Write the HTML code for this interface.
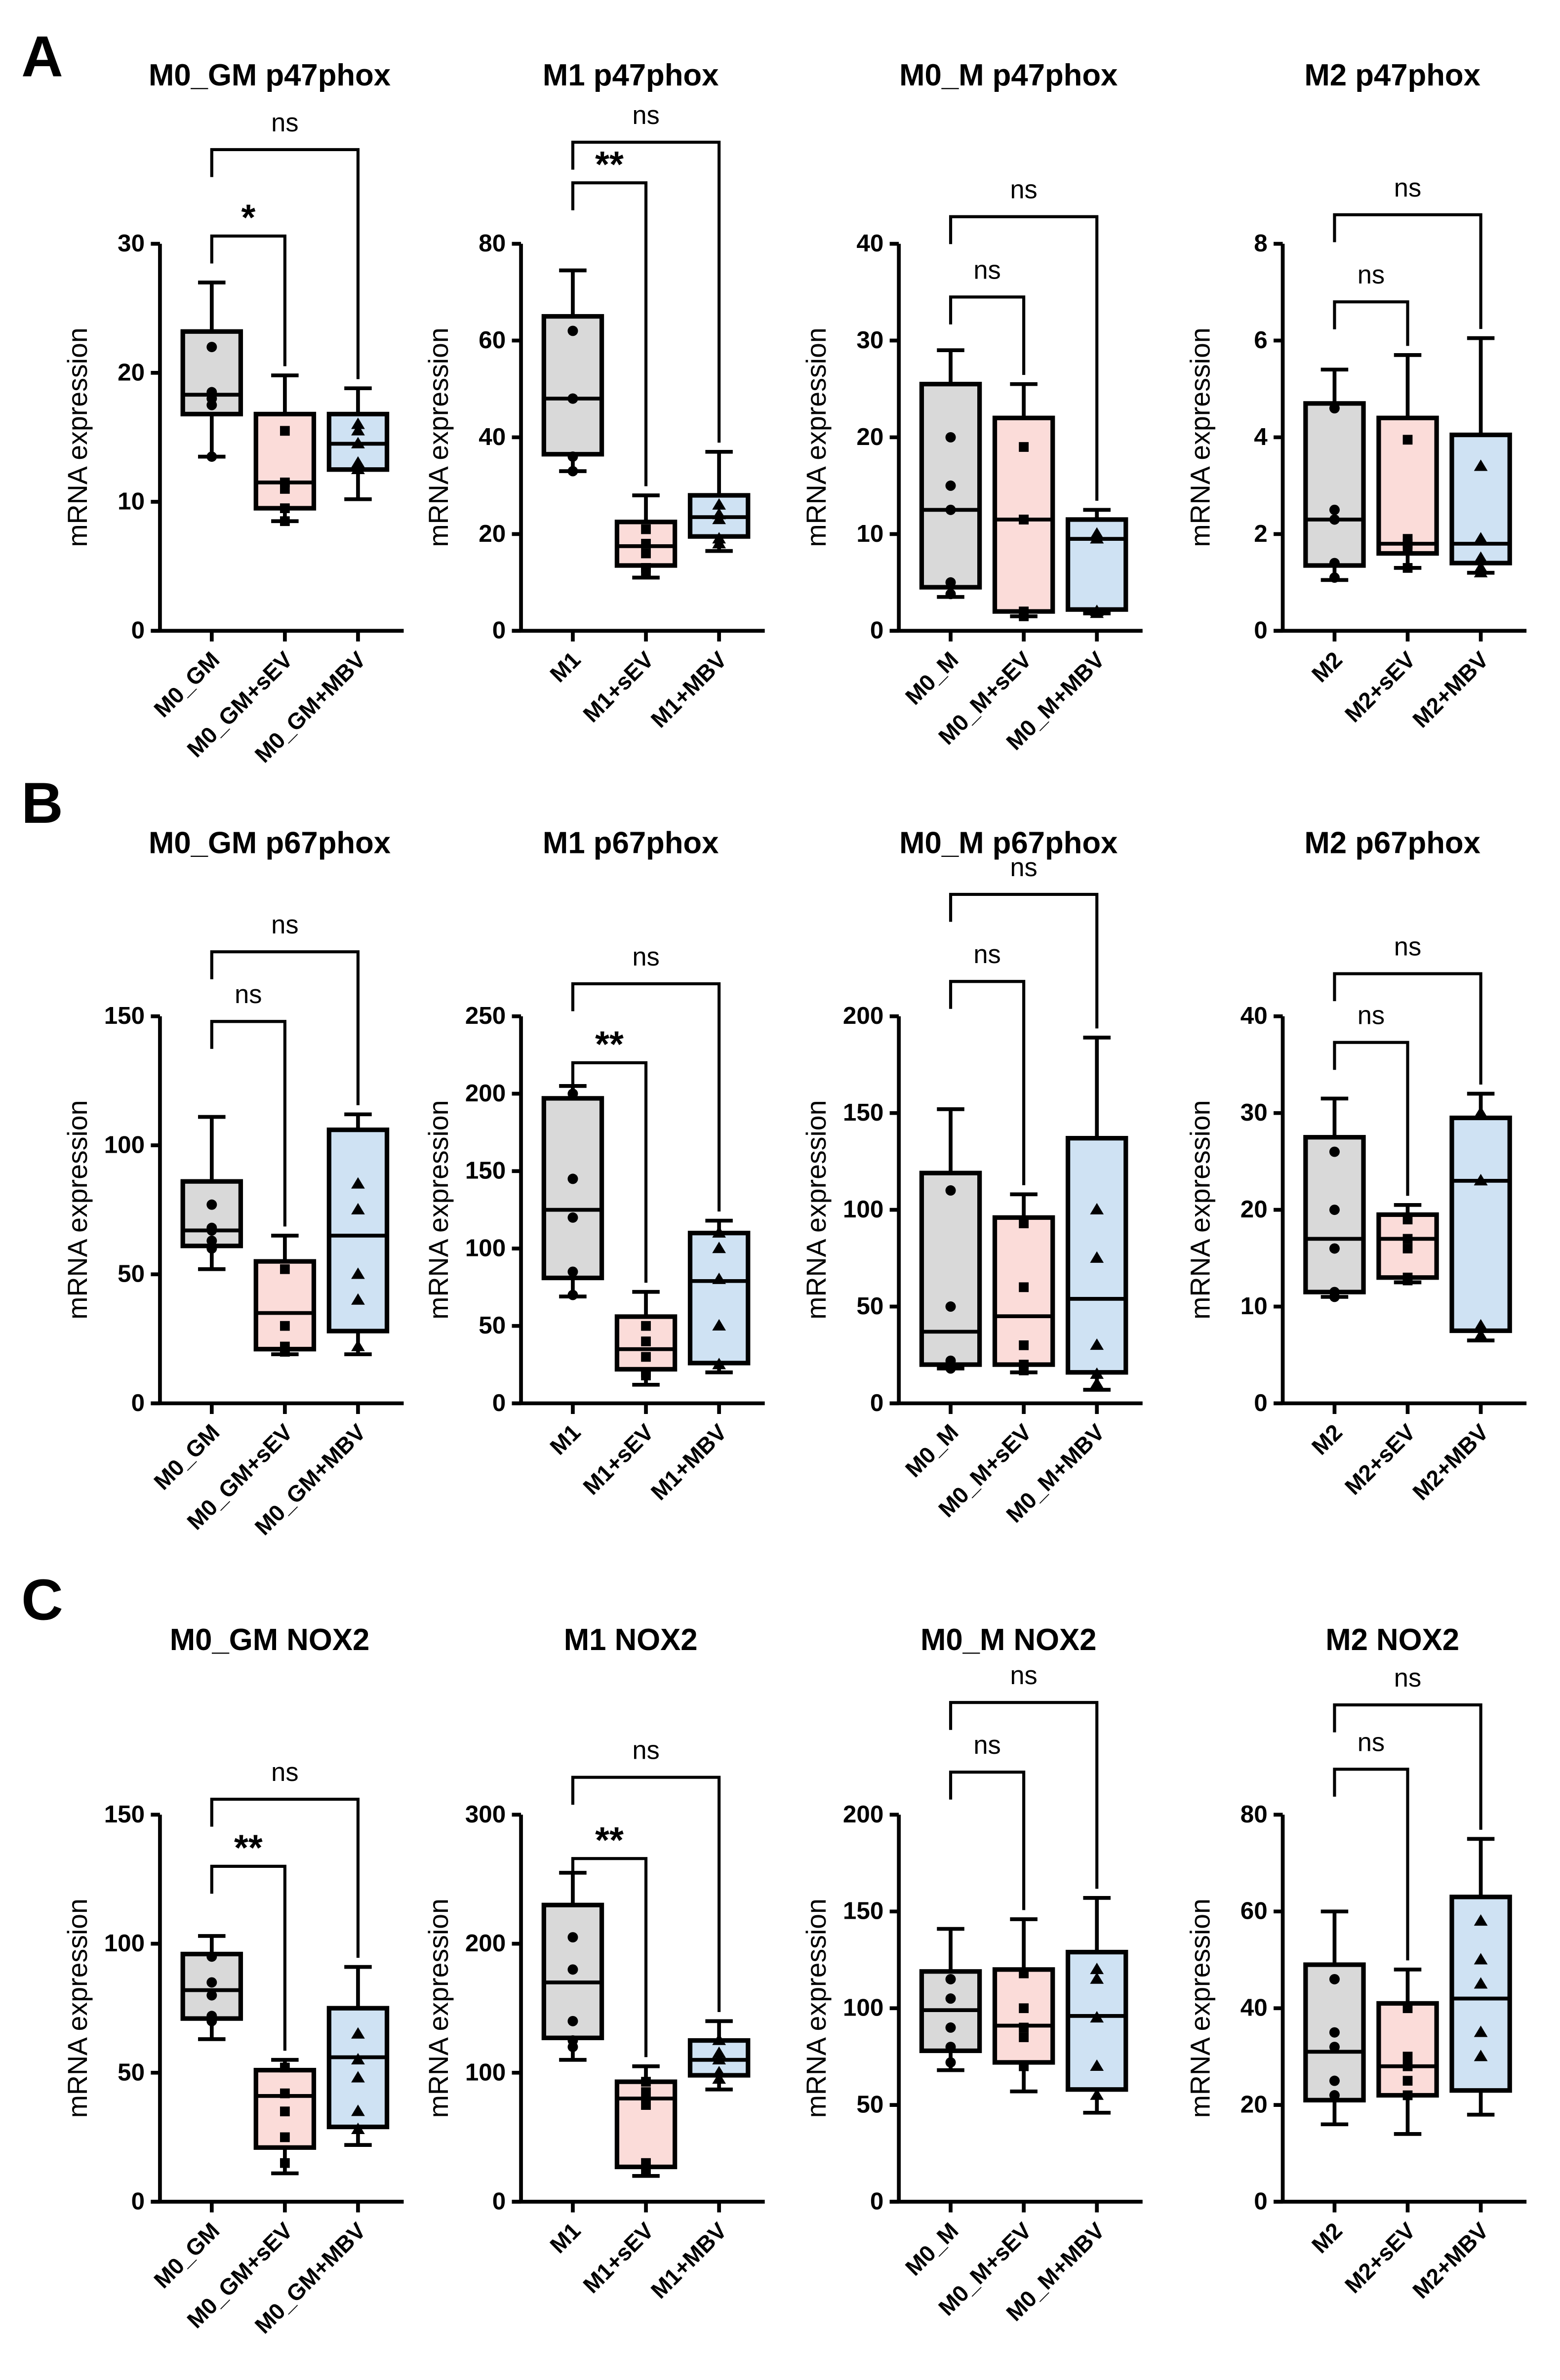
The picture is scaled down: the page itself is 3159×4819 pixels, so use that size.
<!DOCTYPE html>
<html><head><meta charset="utf-8"><style>
html,body{margin:0;padding:0;background:#fff}
svg{display:block}
text{font-family:"Liberation Sans",Arial,sans-serif;fill:#000}
</style></head><body>
<svg id="fig" width="3159" height="4819" viewBox="0 0 1024 1562" preserveAspectRatio="none" xmlns="http://www.w3.org/2000/svg">
<text x="14" y="50" font-size="38" font-weight="bold">A</text>
<text x="14" y="540" font-size="38" font-weight="bold">B</text>
<text x="14" y="1063" font-size="38" font-weight="bold">C</text>
</svg>
<script>
const titles=["M0_GM p47phox","M1 p47phox","M0_M p47phox","M2 p47phox","M0_GM p67phox","M1 p67phox","M0_M p67phox","M2 p67phox","M0_GM NOX2","M1 NOX2","M0_M NOX2","M2 NOX2"];
const catSets=[["M0_GM","M0_GM+sEV","M0_GM+MBV"],["M1","M1+sEV","M1+MBV"],["M0_M","M0_M+sEV","M0_M+MBV"],["M2","M2+sEV","M2+MBV"]];
const yMaxes=[30,80,40,8,150,250,200,40,150,300,200,80];
const tickSteps=[10,20,10,2,50,50,50,10,50,100,50,20];
const boxStats=[
[[13.5,16.8,18.3,23.2,27],[8.5,9.5,11.5,16.8,19.8],[10.2,12.5,14.5,16.8,18.8]],
[[33,36.5,48,65,74.5],[11,13.5,17.5,22.5,28],[16.5,19.5,23.5,28,37]],
[[3.5,4.5,12.5,25.5,29],[1.5,2,11.5,22,25.5],[1.8,2.2,9.5,11.5,12.5]],
[[1.05,1.35,2.3,4.7,5.4],[1.3,1.6,1.8,4.4,5.7],[1.2,1.4,1.8,4.05,6.05]],
[[52,61,67,86,111],[19,21,35,55,65],[19,28,65,106,112]],
[[69,81,125,197,205],[12,22,35,56,72],[20,26,79,110,118]],
[[18,20,37,119,152],[16,20,45,96,108],[7,16,54,137,189]],
[[11,11.5,17,27.5,31.5],[12.5,13,17,19.5,20.5],[6.5,7.5,23,29.5,32]],
[[63,71,82,96,103],[11,21,41,51,55],[22,29,56,75,91]],
[[110,127,170,230,255],[20,27,80,93,105],[87,98,110,125,140]],
[[68,78,99,119,141],[57,72,91,120,146],[46,58,96,129,157]],
[[16,21,31,49,60],[14,22,28,41,48],[18,23,42,63,75]]];
const pointSets=[
[[22,18.5,18,17.5,13.5],[15.5,11.5,11,9.5,8.5],[16,15.5,14.5,13,12.5]],
[[62,48,48,36,33],[21,18,16,13,12],[26,24,23,19,18]],
[[20,15,12.5,5,3.8],[19,11.5,11.5,2,1.5],[10,9.5,9.5,2,1.8]],
[[4.6,2.5,2.3,1.4,1.1],[3.95,1.9,1.8,1.7,1.3],[3.4,1.9,1.5,1.3,1.2]],
[[77,68,67,63,60],[52,30,22,20,20],[85,75,50,40,22]],
[[200,145,120,85,70],[50,40,30,20,18],[110,100,80,50,25]],
[[110,50,22,20,18],[93,60,30,20,17],[100,75,30,15,10]],
[[26,20,16,11.5,11],[19,17,16,13,12.7],[30,23,23,8,7]],
[[95,85,80,72,70],[52,42,35,25,15],[65,55,48,35,28]],
[[205,180,140,125,120],[93,85,75,30,25],[125,115,110,100,95]],
[[115,105,90,80,72],[118,100,90,85,70],[120,115,95,70,55]],
[[46,35,32,25,22],[40,30,28,25,22],[58,50,45,35,30]]];
const bracketVals=[[30.6,37.3],[92.6,101],[34.5,42.8],[6.8,8.6],[148,175],[220,271],[218,263],[37.3,44.4],[130,156],[266,329],[222,258],[89.4,102.7]];
const bracketLabels=[["*","ns"],["**","ns"],["ns","ns"],["ns","ns"],["ns","ns"],["**","ns"],["ns","ns"],["ns","ns"],["**","ns"],["**","ns"],["ns","ns"],["ns","ns"]];

const axX=[105,342,590,842];
const rowY=[{base:414,top:160,title:56},{base:921,top:667,title:560},{base:1445,top:1191,title:1083}];
const fills=["#d9d9d9","#fbdcd9","#cfe2f3"];
const NS="http://www.w3.org/2000/svg";
const svg=document.getElementById('fig');
function el(tag,attrs,parent){const e=document.createElementNS(NS,tag);for(const k in attrs)e.setAttribute(k,attrs[k]);(parent||svg).appendChild(e);return e;}

for(let i=0;i<12;i++){
  const r=Math.floor(i/4),c=i%4;
  const g=el('g',{});
  
  
  const x0=axX[c],base=rowY[r].base,top=rowY[r].top,ymax=yMaxes[i];
  const y=v=>base-(v/ymax)*(base-top);
  const cx=k=>x0+34+k*48;
  const cats=catSets[c];
  const t=el('text',{x:x0+72,y:rowY[r].title,'font-size':20,'font-weight':'bold','text-anchor':'middle'},g);
  t.textContent=titles[i];
  
  
  const ya=el('line',{x1:x0,y1:top,x2:x0,y2:base,stroke:'#000','stroke-width':2.5},g);
  
  
  const xa=el('line',{x1:x0-6,y1:base,x2:cx(2)+30,y2:base,stroke:'#000','stroke-width':2.5},g);
  
  
  for(let v=0;v<=ymax+1e-9;v+=tickSteps[i]){
    el('line',{x1:x0-6,y1:y(v),x2:x0,y2:y(v),stroke:'#000','stroke-width':2.5},g);
    const tl=el('text',{x:x0-10,y:y(v)+5,'font-size':16,'font-weight':'bold','text-anchor':'end'},g);
    tl.textContent=String(v);
    
    
  }
  const yl=el('text',{x:0,y:0,'font-size':18,'text-anchor':'middle',transform:`translate(${x0-48},${(base+top)/2}) rotate(-90)`},g);
  yl.textContent='mRNA expression';
  
  
  for(let k=0;k<3;k++){
    const X=cx(k),s=boxStats[i][k];
    el('line',{x1:X,y1:base,x2:X,y2:base+7,stroke:'#000','stroke-width':2.5},g);
    const cl=el('text',{x:0,y:0,'font-size':15,'font-weight':'bold','text-anchor':'end',transform:`translate(${X+6},${base+20}) rotate(-45)`},g);
    cl.textContent=cats[k];
    
    
    const bg=el('g',{},g);
    
    
    el('line',{x1:X,y1:y(s[0]),x2:X,y2:y(s[1]),stroke:'#000','stroke-width':2.5},bg);
    el('line',{x1:X,y1:y(s[3]),x2:X,y2:y(s[4]),stroke:'#000','stroke-width':2.5},bg);
    el('line',{x1:X-9,y1:y(s[0]),x2:X+9,y2:y(s[0]),stroke:'#000','stroke-width':2.5},bg);
    el('line',{x1:X-9,y1:y(s[4]),x2:X+9,y2:y(s[4]),stroke:'#000','stroke-width':2.5},bg);
    el('rect',{x:X-19,y:y(s[3]),width:38,height:y(s[1])-y(s[3]),fill:fills[k],stroke:'#000','stroke-width':3},bg);
    el('line',{x1:X-19,y1:y(s[2]),x2:X+19,y2:y(s[2]),stroke:'#000','stroke-width':2.5},bg);
    pointSets[i][k].forEach(p=>{
      const py=y(p);
      let m;
      if(k===0)m=el('circle',{cx:X,cy:py,r:3.4,fill:'#000'},bg);
      else if(k===1)m=el('rect',{x:X-3.2,y:py-3.2,width:6.4,height:6.4,fill:'#000'},bg);
      else m=el('polygon',{points:`${X},${py-4.5} ${X-4.5},${py+3} ${X+4.5},${py+3}`,fill:'#000'},bg);
      
      
    });
  }
  for(let b=0;b<2;b++){
    const by=y(bracketVals[i][b]),xr=cx(b+1),xl=cx(0);
    const rEnd=y(boxStats[i][b+1][4])-6;
    const br=el('path',{d:`M${xl},${by+18} V${by} H${xr} V${rEnd}`,fill:'none',stroke:'#000','stroke-width':2},g);
    
    
    const lab=bracketLabels[i][b];
    const bt=el('text',{x:(xl+xr)/2,y:lab==='ns'?by-12:by-4,'font-size':lab==='ns'?17:24,'font-weight':lab==='ns'?'normal':'bold','text-anchor':'middle'},g);
    bt.textContent=lab;
    
    
  }
}
</script>
</body></html>
